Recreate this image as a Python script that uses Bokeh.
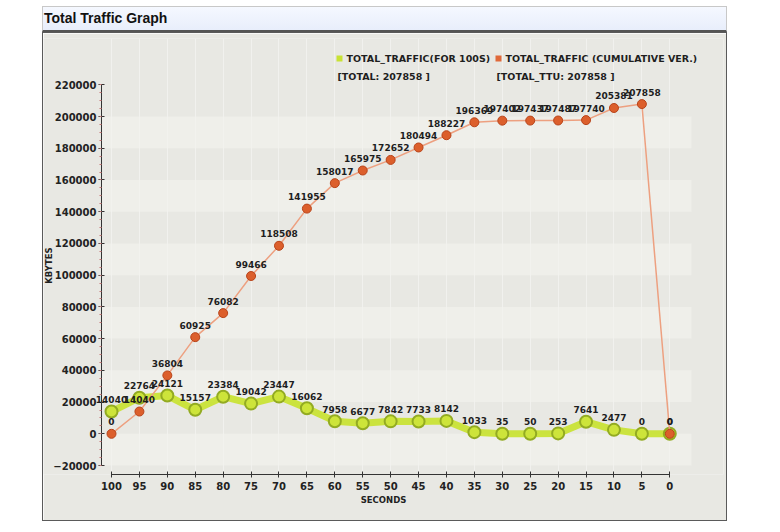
import math
from bokeh.plotting import figure
from bokeh.models import (Range1d, FixedTicker, BasicTickFormatter, Div, ColumnDataSource,
                          LabelSet, Label)
from bokeh.layouts import column
from bokeh.core.properties import value
from bokeh.embed import file_html
from bokeh.resources import INLINE

# ---------------- data ----------------
SECONDS = [100, 95, 90, 85, 80, 75, 70, 65, 60, 55, 50, 45, 40, 35, 30, 25, 20, 15, 10, 5, 0]
PER_100S = [14040, 22764, 24121, 15157, 23384, 19042, 23447, 16062, 7958, 6677, 7842,
            7733, 8142, 1033, 35, 50, 253, 7641, 2477, 0, 0]
CUMULATIVE = [0, 14040, 36804, 60925, 76082, 99466, 118508, 141955, 158017, 165975, 172652,
              180494, 188227, 196369, 197402, 197437, 197487, 197740, 205381, 207858, 0]
Y_TICKS = [-20000, 0, 20000, 40000, 60000, 80000, 100000, 120000, 140000, 160000,
           180000, 200000, 220000]
X_TICKS = [100, 95, 90, 85, 80, 75, 70, 65, 60, 55, 50, 45, 40, 35, 30, 25, 20, 15, 10, 5, 0]
LEGEND_1 = "TOTAL_TRAFFIC(FOR 100S)"
LEGEND_2 = "TOTAL_TRAFFIC (CUMULATIVE VER.)"
TOTAL_1 = "[TOTAL: 207858 ]"
TOTAL_2 = "[TOTAL_TTU: 207858 ]"
Y_LABEL = "KBYTES"
X_LABEL = "SECONDS"

# ---------------- layout constants ----------------
W, H = 685, 489
FRAME_L, FRAME_R, FRAME_T, FRAME_B = 0, 680, 5, 441
X_START, X_END = 112.18, -9.62
Y_START, Y_END = -25655, 249186

def dx(cx):
    return X_START + (cx - FRAME_L) / (FRAME_R - FRAME_L) * (X_END - X_START)

def dy(cy):
    return Y_END - (cy - FRAME_T) / (FRAME_B - FRAME_T) * (Y_END - Y_START)

AXIS_X = dx(58)       # where the y axis line sits (canvas px)
BAND_RIGHT = dx(648)  # right end of the shaded plot rows

FONT = value("DejaVu Sans")
PANEL = "#e8e8e3"

p = figure(width=W, height=H, output_backend="svg", toolbar_location=None,
           x_range=Range1d(X_START, X_END), y_range=Range1d(Y_START, Y_END),
           min_border_left=FRAME_L, min_border_right=W - FRAME_R,
           min_border_top=FRAME_T, min_border_bottom=H - FRAME_B,
           background_fill_color=PANEL, border_fill_color=PANEL,
           outline_line_color=None, margin=(0, 0, 0, 42),
           styles={"border": "1px solid #5a5a5a", "box-sizing": "border-box"})

# shaded rows between alternate y ticks
p.quad(left=AXIS_X, right=BAND_RIGHT, bottom=Y_TICKS[0:-1:2], top=Y_TICKS[1::2],
       fill_color="#f3f3ef", fill_alpha=0.6, line_color=None)

# grid
p.ygrid.visible = False
p.xgrid.ticker = FixedTicker(ticks=X_TICKS)
p.xgrid.grid_line_color = "#f1f1ee"
p.xgrid.grid_line_width = 1
p.xgrid.bounds = (0, 100)

# axes
p.yaxis.ticker = FixedTicker(ticks=Y_TICKS, minor_ticks=list(range(-20000, 220001, 5000)))
p.yaxis.formatter = BasicTickFormatter(use_scientific=False)
p.yaxis.bounds = (-20000, 220000)
p.yaxis.fixed_location = AXIS_X
p.xaxis.ticker = FixedTicker(ticks=X_TICKS)
p.xaxis.bounds = (0, 100)
p.xaxis.axis_label = X_LABEL
for ax in (p.xaxis, p.yaxis):
    ax.axis_line_color = "#333333"
    ax.axis_line_width = 1
    ax.major_tick_line_color = "#333333"
    ax.major_tick_in = 3
    ax.major_tick_out = 3
    ax.minor_tick_line_color = "#c87878"
    ax.minor_tick_in = 0
    ax.minor_tick_out = 2
    ax.major_label_text_font = "DejaVu Sans"
    ax.major_label_text_font_style = "bold"
    ax.major_label_text_font_size = "10px"
    ax.major_label_text_color = "#222222"
    ax.axis_label_text_font = "DejaVu Sans"
    ax.axis_label_text_font_style = "bold"
    ax.axis_label_text_font_size = "8.5px"
    ax.axis_label_text_color = "#222222"
p.yaxis.major_label_standoff = 2
p.xaxis.major_label_standoff = 4
p.xaxis.axis_label_standoff = 2

# y axis title at the left edge of the panel
p.add_layout(Label(x=dx(5), y=dy(232), text=Y_LABEL, angle=math.pi / 2, text_align="center",
                   text_baseline="middle", text_font="DejaVu Sans", text_font_style="bold",
                   text_font_size="8.5px", text_color="#222222"))

src = ColumnDataSource(dict(x=SECONDS, per=PER_100S, cum=CUMULATIVE,
                            per_t=[str(v) for v in PER_100S],
                            cum_t=[str(v) for v in CUMULATIVE]))

# series
p.line("x", "per", source=src, line_color="#c8e22c", line_width=7, line_alpha=0.9)
p.scatter("x", "per", source=src, size=12, fill_color="#cde43a", line_color="#93ab22", line_width=2)
p.line("x", "cum", source=src, line_color="#eda080", line_width=1.5)
p.scatter("x", "cum", source=src, size=9, fill_color="#dc5f2c", line_color="#b8441a", line_width=1)

# value labels
for ycol, tcol in (("per", "per_t"), ("cum", "cum_t")):
    p.add_layout(LabelSet(x="x", y=ycol, text=tcol, source=src, text_align="center",
                          text_baseline="middle", y_offset=12, text_font=FONT,
                          text_font_style="bold", text_font_size="9px", text_color="#1e1e1e"))

# legend
p.scatter([dx(296)], [dy(25)], marker="square", size=6, fill_color="#c8e234", line_color=None)
p.scatter([dx(455)], [dy(25)], marker="square", size=6, fill_color="#e0693a", line_color=None)
p.text([dx(303), dx(462)], [dy(25), dy(25)], text=[LEGEND_1, LEGEND_2],
       text_align="left", text_baseline="middle", text_font=FONT, text_font_style="bold",
       text_font_size="9.5px", text_color="#1e1e1e")
p.text([dx(294), dx(453)], [dy(43), dy(43)], text=[TOTAL_1, TOTAL_2],
       text_align="left", text_baseline="middle", text_font=FONT, text_font_style="bold",
       text_font_size="9.5px", text_color="#1e1e1e")

title = Div(text="Total Traffic Graph", width=W, height=26, margin=(6, 0, 0, 42),
            styles={"background": "linear-gradient(#f5f8ff, #e8eefb)",
                    "border": "1px solid #c8c8c8", "border-bottom": "2px solid #555555",
                    "box-sizing": "border-box", "font-family": "Liberation Sans, Arial, sans-serif",
                    "font-weight": "bold", "font-size": "14px", "line-height": "22px",
                    "padding-left": "1px", "color": "#111111"})

layout = column(title, p, spacing=0, margin=0)

with open("out.html", "w") as f:
    f.write(file_html(layout, INLINE))
